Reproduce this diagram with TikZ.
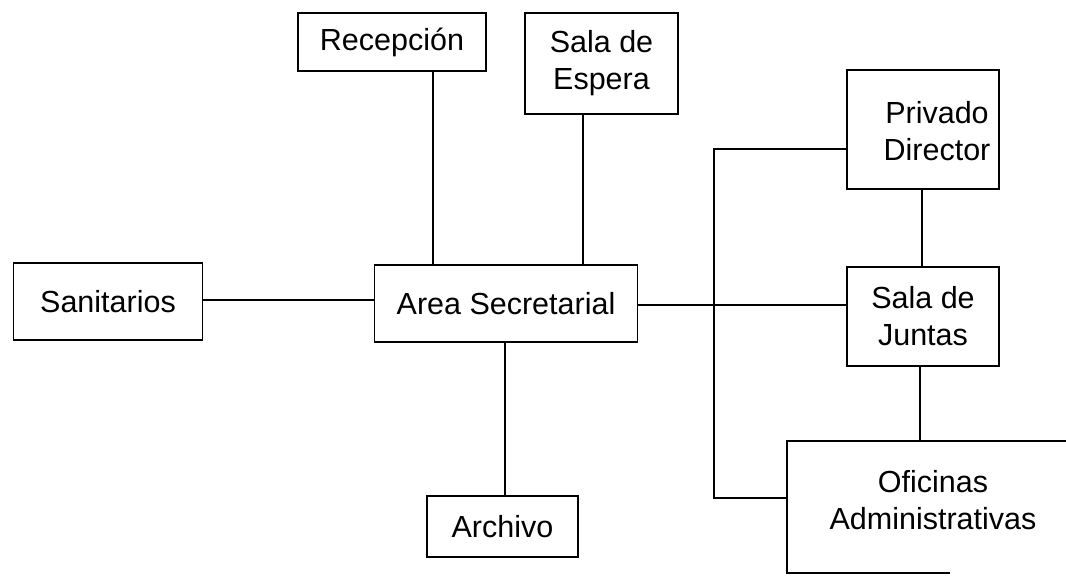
\documentclass[tikz,border=0pt]{standalone}
\usepackage{fontspec}
\setmainfont{Liberation Sans}
\begin{document}
\begin{tikzpicture}[x=1pt,y=-1pt,
  box/.style={draw, line width=1.8pt, inner sep=0pt, align=center, font=\fontsize{30.5}{37}\selectfont},
  txt/.style={inner sep=0pt, align=center, font=\fontsize{30.5}{37}\selectfont},
  conn/.style={line width=1.8pt}]
\useasboundingbox (0,0) rectangle (1066,576);
% boxes
\node[box, minimum width=188, minimum height=58] (rec) at (392,42) {Recepción};
\node[box, minimum width=153, minimum height=101] (esp) at (601.5,63.5) {Sala de\\Espera};
\node[box, minimum width=152, minimum height=119] (pri) at (923,129.5) {};
\node[txt] (pritxt) at (937,131) {Privado\\Director};
\node[box, minimum width=189, minimum height=77] (san) at (108,301.5) {Sanitarios};
\node[box, minimum width=263, minimum height=77] (area) at (506,303.5) {Area Secretarial};
\node[box, minimum width=152, minimum height=99] (jun) at (923,316.5) {Sala de\\Juntas};
\node[box, minimum width=151, minimum height=61] (arc) at (502.5,526.5) {Archivo};
% Oficinas (open on the right)
\coordinate (oTR) at (1066,441);
\coordinate (oTL) at (787,441);
\coordinate (oBL) at (787,573);
\coordinate (oBR) at (950,573);
\draw[conn] (oTR) -- (oTL) -- (oBL) -- (oBR);
\node[txt] (ofi) at (933,500) {Oficinas\\Administrativas};
% helper coordinates
\coordinate (x1) at (433,0);
\coordinate (x2) at (583,0);
\coordinate (y1) at (0,300);
\coordinate (y2) at (0,305);
\coordinate (x3) at (505,0);
\coordinate (x4) at (922,0);
\coordinate (x5) at (920,0);
\coordinate (b1) at (714,149);
\coordinate (b2) at (714,498);
% connectors
\draw[conn] (rec.south -| x1) -- (area.north -| x1);
\draw[conn] (esp.south -| x2) -- (area.north -| x2);
\draw[conn] (san.east |- y1) -- (area.west |- y1);
\draw[conn] (area.east |- y2) -- (jun.west |- y2);
\draw[conn] (area.south -| x3) -- (arc.north -| x3);
\draw[conn] (pri.south -| x4) -- (jun.north -| x4);
\draw[conn] (jun.south -| x5) -- (oTL -| x5);
\draw[conn] (pri.west |- b1) -- (b1) -- (b2) -- (oTL |- b2);
\end{tikzpicture}
\end{document}
